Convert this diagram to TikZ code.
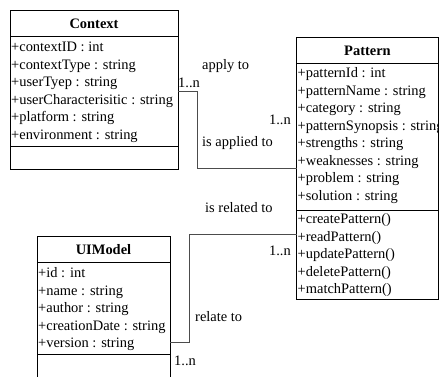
\documentclass[tikz,border=0pt]{standalone}
\usepackage{fontspec}
\setmainfont{Liberation Serif}
\begin{document}
\begin{tikzpicture}[x=1bp,y=-1bp,
  classbox/.style={draw=black,line width=0.9bp,inner sep=0pt,outer sep=0pt,anchor=north west,fill=white},
  member/.style={anchor=base west,inner sep=0pt,font=\fontsize{14.5}{17.5}\selectfont},
  title/.style={anchor=base,inner sep=0pt,font=\fontsize{14.5}{17.5}\selectfont\bfseries},
  lbl/.style={inner sep=0pt,font=\fontsize{14.5}{17.5}\selectfont},
  conn/.style={draw=black!70,line width=0.9bp},
  sep/.style={draw=black,line width=1bp}]
\useasboundingbox (0,0) rectangle (439,376);
\clip (0,0) rectangle (439,376);

% Context class
\node[classbox,minimum width=168bp,minimum height=159bp] (ctx) at (10,10) {};
\draw[sep] ([yshift=-26bp]ctx.north west) -- ([yshift=-26bp]ctx.north east);
\draw[sep] ([yshift=-136bp]ctx.north west) -- ([yshift=-136bp]ctx.north east);
\node[title] (ctxt) at (94,28) {Context};
\foreach \m [count=\i] in {{+contextID : int},{+contextType : string},{+userTyep : string},
  {+userCharacterisitic : string},{+platform : string},{+environment : string}}
  \node[member] (ctxa\i) at (11,34+17.5*\i) {\m};

% Pattern class
\node[classbox,minimum width=142bp,minimum height=262bp] (pat) at (296.5,37) {};
\draw[sep] ([yshift=-26bp]pat.north west) -- ([yshift=-26bp]pat.north east);
\draw[sep] ([yshift=-173bp]pat.north west) -- ([yshift=-173bp]pat.north east);
\node[title] (patt) at (367.5,55) {Pattern};
\foreach \m [count=\i] in {{+patternId : int},{+patternName : string},{+category : string},
  {+patternSynopsis : string},{+strengths : string},{+weaknesses : string},
  {+problem : string},{+solution : string}}
  \node[member] (pata\i) at (297.5,60+17.5*\i) {\m};
\foreach \m [count=\i] in {{+createPattern()},{+readPattern()},{+updatePattern()},
  {+deletePattern()},{+matchPattern()}}
  \node[member] (patm\i) at (297.5,206+17.5*\i) {\m};

% UIModel class
\node[classbox,minimum width=133bp,minimum height=160bp] (uim) at (37,236) {};
\draw[sep] ([yshift=-26bp]uim.north west) -- ([yshift=-26bp]uim.north east);
\draw[sep] ([yshift=-118bp]uim.north west) -- ([yshift=-118bp]uim.north east);
\node[title] (uimt) at (103.5,254) {UIModel};
\foreach \m [count=\i] in {{+id : int},{+name : string},{+author : string},
  {+creationDate : string},{+version : string}}
  \node[member] (uima\i) at (38,260+17.5*\i) {\m};

% associations
\draw[conn] ([yshift=-81bp]ctx.north east) -- ++(19,0) |- ([yshift=-131bp]pat.north west);
\draw[conn] ([yshift=-197bp]pat.north west) -- ++(-107.5,0) |- ([yshift=-106bp]uim.north east);

% association labels and multiplicities
\node[lbl,anchor=base west] (l1) at (202,69) {apply to};
\node[lbl,anchor=base west] (m1) at (178,87) {1..n};
\node[lbl,anchor=base east] (m2) at (291,124) {1..n};
\node[lbl,anchor=base west] (l2) at (202,146) {is applied to};
\node[lbl,anchor=base west] (l3) at (205,212) {is related to};
\node[lbl,anchor=base east] (m3) at (291,255) {1..n};
\node[lbl,anchor=base west] (l4) at (195,321) {relate to};
\node[lbl,anchor=base west] (m4) at (174,365) {1..n};
\end{tikzpicture}
\end{document}
